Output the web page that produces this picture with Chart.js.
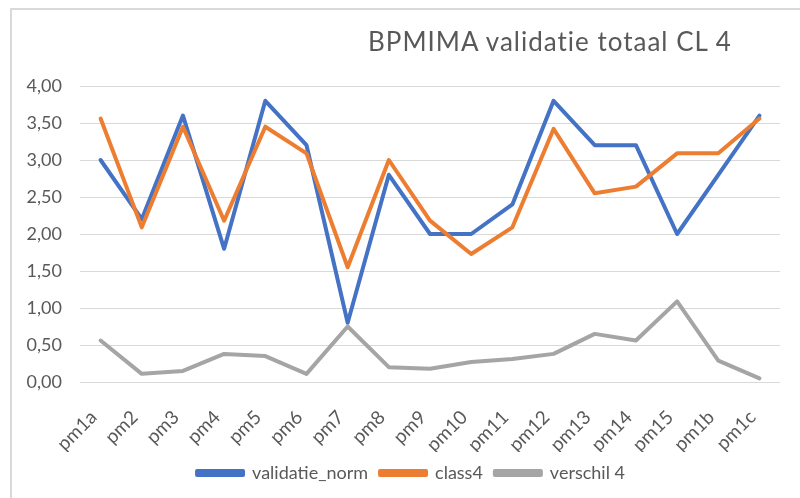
<!DOCTYPE html>
<html>
<head>
<meta charset="utf-8">
<script src="https://cdn.jsdelivr.net/npm/chart.js@4.4.1/dist/chart.umd.min.js"></script>
<style>
  html, body { margin: 0; padding: 0; background: #fff; }
  #wrap { position: relative; width: 800px; height: 498px; overflow: hidden; }
  #frame {
    position: absolute; left: 10px; top: 8px; width: 800px; height: 500px;
    border-left: 2px solid #d9d9d9; border-top: 2px solid #d9d9d9;
  }
  #title {
    position: absolute; left: 368px; top: 25px;
    font-family: Lato, sans-serif; font-size: 26px; letter-spacing: 1px; color: #595959;
    white-space: nowrap;
  }
  canvas { position: absolute; left: 0; top: 0; }
</style>
</head>
<body>
<div id="wrap">
  <div id="frame"></div>
  <canvas id="chart" width="800" height="498"></canvas>
  <div id="title">BPMIMA validatie totaal CL 4</div>
</div>
<script>
// Categories and series
const labels = ['pm1a', 'pm2', 'pm3', 'pm4', 'pm5', 'pm6', 'pm7', 'pm8', 'pm9',
                'pm10', 'pm11', 'pm12', 'pm13', 'pm14', 'pm15', 'pm1b', 'pm1c'];
const validatieNorm = [3.0, 2.2, 3.6, 1.8, 3.8, 3.2, 0.8, 2.8, 2.0, 2.0, 2.4, 3.8, 3.2, 3.2, 2.0, 2.8, 3.6];
const class4 = [3.56, 2.09, 3.45, 2.18, 3.45, 3.09, 1.55, 3.0, 2.18, 1.73, 2.09, 3.42, 2.55, 2.64, 3.09, 3.09, 3.56];
const verschil4 = [0.56, 0.11, 0.15, 0.38, 0.35, 0.11, 0.75, 0.2, 0.18, 0.27, 0.31, 0.38, 0.65, 0.56, 1.09, 0.29, 0.05];
const yTicks = [0, 0.5, 1, 1.5, 2, 2.5, 3, 3.5, 4];

const FONT = 'Lato, sans-serif';
const TEXT = '#595959';

function lineSet(label, data, color, order) {
    return {
        label,
        data,
        borderColor: color,
        backgroundColor: color,
        borderWidth: 4,
        pointRadius: 0,
        tension: 0,
        borderCapStyle: 'round',
        borderJoinStyle: 'round',
        order
    };
}

// the original legend sits a bit right of centre
const legendShift = {
    id: 'legendShift',
    afterLayout(chart) {
        chart.legend.left += 18;
        chart.legend.right += 18;
    }
};

const ctx = document.getElementById('chart').getContext('2d');
new Chart(ctx, {
    type: 'line',
    data: {
        labels,
        datasets: [
            lineSet('validatie_norm', validatieNorm, '#4472c4', 2),
            lineSet('class4', class4, '#ed7d31', 1),
            lineSet('verschil 4', verschil4, '#a5a5a5', 0)
        ]
    },
    plugins: [legendShift],
    options: {
        responsive: false,
        animation: false,
        layout: { padding: { top: 86, right: 14, bottom: 6, left: 0 } },
        plugins: {
            title: { display: false },
            tooltip: { enabled: false },
            legend: {
                position: 'bottom',
                labels: {
                    boxWidth: 46,
                    boxHeight: 4,
                    padding: 12,
                    color: TEXT,
                    font: { family: FONT, size: 18 },
                    sort: (a, b) => a.datasetIndex - b.datasetIndex
                }
            }
        },
        scales: {
            x: {
                offset: true,
                grid: { display: false, drawTicks: false },
                border: { display: false },
                ticks: {
                    minRotation: 45,
                    maxRotation: 45,
                    padding: 24,
                    labelOffset: -7,
                    color: TEXT,
                    font: { family: FONT, size: 19 }
                },
                afterFit: scale => { scale.height = 70; }
            },
            y: {
                min: 0,
                max: 4,
                afterBuildTicks: scale => { scale.ticks = yTicks.map(v => ({ value: v })); },
                grid: { color: '#d9d9d9', lineWidth: 1, drawTicks: false },
                border: { display: false },
                ticks: {
                    padding: 18,
                    color: TEXT,
                    font: { family: FONT, size: 18 },
                    callback: v => v.toFixed(2).replace('.', ',')
                },
                afterFit: scale => { scale.width = 80; }
            }
        }
    }
});
</script>
</body>
</html>
